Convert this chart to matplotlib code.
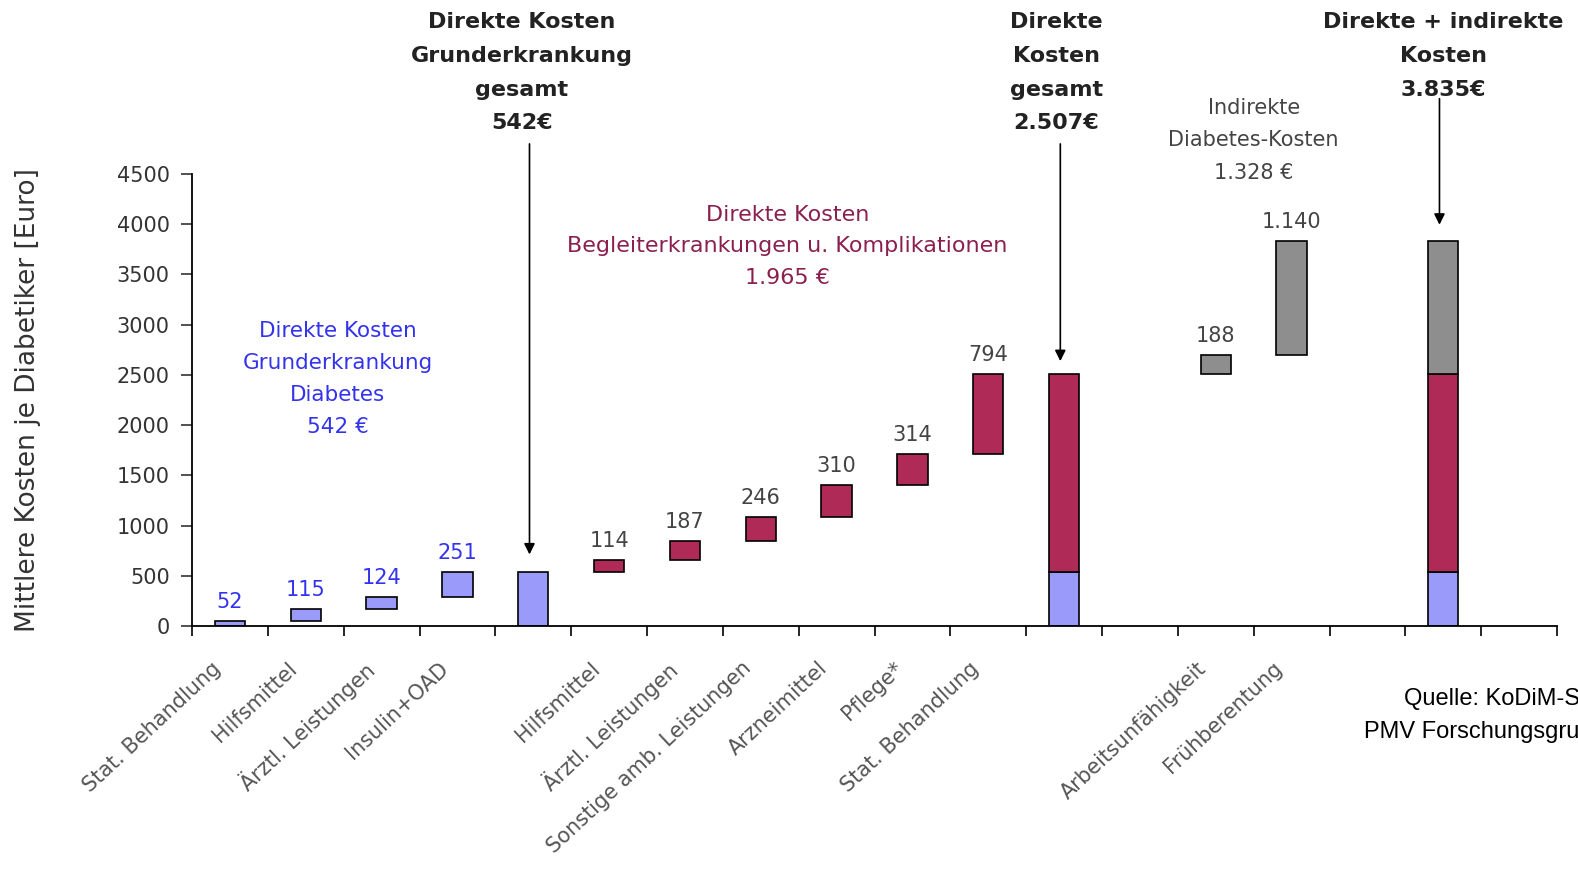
import numpy as np
import matplotlib.pyplot as plt

plt.rcParams['font.family'] = ['DejaVu Sans']

## Daten (Mittlere Kosten je Diabetiker, Euro)
labels = ['Stat. Behandlung', 'Hilfsmittel', 'Ärztl. Leistungen', 'Insulin+OAD', '',
          'Hilfsmittel', 'Ärztl. Leistungen', 'Sonstige amb. Leistungen', 'Arzneimittel',
          'Pflege*', 'Stat. Behandlung', '', '', 'Arbeitsunfähigkeit', 'Frühberentung',
          '', '', '']

blue_vals = [52, 115, 124, 251]
red_vals = [114, 187, 246, 310, 314, 794]
gray_vals = [188, 1140]

blue_pos = [0, 1, 2, 3]
red_pos = [5, 6, 7, 8, 9, 10]
gray_pos = [13, 14]
tot1_pos = 4
tot2_pos = 11
tot3_pos = 16

blue_lbl = ['52', '115', '124', '251']
red_lbl = ['114', '187', '246', '310', '314', '794']
gray_lbl = ['188', '1.140']

c_blue = '#9A9AFA'
c_red = '#B02A57'
c_gray = '#8E8E8E'
w = 0.4

blue_sum = sum(blue_vals)
red_sum = sum(red_vals)
gray_sum = sum(gray_vals)

fig = plt.figure(figsize=(15.78, 8.71), dpi=100)
ax = fig.add_axes([0.1217, 0.2813, 0.8650, 0.5189])

# Einzelbalken (Wasserfall)
bottoms = np.concatenate([[0], np.cumsum(blue_vals)[:-1]])
ax.bar(blue_pos, blue_vals, w, bottom=bottoms, color=c_blue, edgecolor='black', lw=1.2)
for x, b, v, t in zip(blue_pos, bottoms, blue_vals, blue_lbl):
    ax.text(x, b + v + 90, t, ha='center', va='bottom', fontsize=15, color='#3333EE')

bottoms = blue_sum + np.concatenate([[0], np.cumsum(red_vals)[:-1]])
ax.bar(red_pos, red_vals, w, bottom=bottoms, color=c_red, edgecolor='black', lw=1.2)
for x, b, v, t in zip(red_pos, bottoms, red_vals, red_lbl):
    ax.text(x, b + v + 90, t, ha='center', va='bottom', fontsize=15, color='#444444')

bottoms = blue_sum + red_sum + np.concatenate([[0], np.cumsum(gray_vals)[:-1]])
ax.bar(gray_pos, gray_vals, w, bottom=bottoms, color=c_gray, edgecolor='black', lw=1.2)
for x, b, v, t in zip(gray_pos, bottoms, gray_vals, gray_lbl):
    ax.text(x, b + v + 90, t, ha='center', va='bottom', fontsize=15, color='#444444')

# Summenbalken
ax.bar(tot1_pos, blue_sum, w, color=c_blue, edgecolor='black', lw=1.2)
ax.bar(tot2_pos, blue_sum, w, color=c_blue, edgecolor='black', lw=1.2)
ax.bar(tot2_pos, red_sum, w, bottom=blue_sum, color=c_red, edgecolor='black', lw=1.2)
ax.bar(tot3_pos, blue_sum, w, color=c_blue, edgecolor='black', lw=1.2)
ax.bar(tot3_pos, red_sum, w, bottom=blue_sum, color=c_red, edgecolor='black', lw=1.2)
ax.bar(tot3_pos, gray_sum, w, bottom=blue_sum + red_sum, color=c_gray, edgecolor='black', lw=1.2)

# Achsen
ax.set_xlim(-0.5, len(labels) - 0.5)
ax.set_ylim(0, 4500)
ax.set_yticks(np.arange(0, 4501, 500))
ax.tick_params(axis='y', labelsize=15, length=8, width=1.2, pad=8, colors='#333333')
ax.set_xticks(np.arange(-0.5, len(labels), 1.0))
ax.set_xticklabels([])
ax.tick_params(axis='x', length=7, width=1.2, direction='out')
for s in ['top', 'right']:
    ax.spines[s].set_visible(False)
for s in ['left', 'bottom']:
    ax.spines[s].set_linewidth(1.3)

for i, t in enumerate(labels):
    if t:
        ax.text(i - 0.25, -320, t, rotation=43, ha='right', va='top', rotation_mode='anchor',
                fontsize=15, color='#555555')

fig.text(0.018, 0.541, 'Mittlere Kosten je Diabetiker [Euro]', rotation=90, ha='center', va='center',
         fontsize=19, color='#333333')

# Beschriftungen Gruppen
ax.text(1.42, 3040, 'Direkte Kosten\nGrunderkrankung\nDiabetes\n542 €', ha='center', va='top',
        fontsize=15.5, color='#3333EE', linespacing=1.75)
ax.text(7.35, 4190, 'Direkte Kosten\nBegleiterkrankungen u. Komplikationen\n1.965 €', ha='center',
        va='top', fontsize=16, color='#8B2050', linespacing=1.7)
ax.text(13.5, 5260, 'Indirekte\nDiabetes-Kosten\n1.328 €', ha='center', va='top',
        fontsize=15, color='#444444', linespacing=1.8, clip_on=False)

# Pfeile und Summen
arr = dict(arrowstyle='-|>', color='black', lw=1.2, mutation_scale=16, shrinkA=0, shrinkB=0)
ax.annotate('', xy=(tot1_pos - 0.05, blue_sum + 170), xytext=(tot1_pos - 0.05, 4800),
            arrowprops=arr, annotation_clip=False)
ax.text(tot1_pos - 0.15, 6110, 'Direkte Kosten\nGrunderkrankung\ngesamt\n542€', ha='center', va='top',
        fontsize=16, fontweight='bold', color='#222222', linespacing=1.85, clip_on=False)

ax.annotate('', xy=(tot2_pos - 0.05, blue_sum + red_sum + 130), xytext=(tot2_pos - 0.05, 4800),
            arrowprops=arr, annotation_clip=False)
ax.text(tot2_pos - 0.1, 6110, 'Direkte\nKosten\ngesamt\n2.507€', ha='center', va='top',
        fontsize=16, fontweight='bold', color='#222222', linespacing=1.85, clip_on=False)

ax.annotate('', xy=(tot3_pos - 0.05, blue_sum + red_sum + gray_sum + 160),
            xytext=(tot3_pos - 0.05, 5250), arrowprops=arr, annotation_clip=False)
ax.text(tot3_pos, 6110, 'Direkte + indirekte\nKosten\n3.835€', ha='center', va='top',
        fontsize=16, fontweight='bold', color='#222222', linespacing=1.85, clip_on=False)

# Quelle (am rechten Rand abgeschnitten wie im Original)
fig.text(0.8897, 0.197, 'Quelle: KoDiM-Studie', ha='left', va='center',
         fontsize=17, family='Liberation Sans', color='black')
fig.text(0.8644, 0.160, 'PMV Forschungsgruppe', ha='left', va='center',
         fontsize=17, family='Liberation Sans', color='black')

fig.savefig('out.png', dpi=100)
